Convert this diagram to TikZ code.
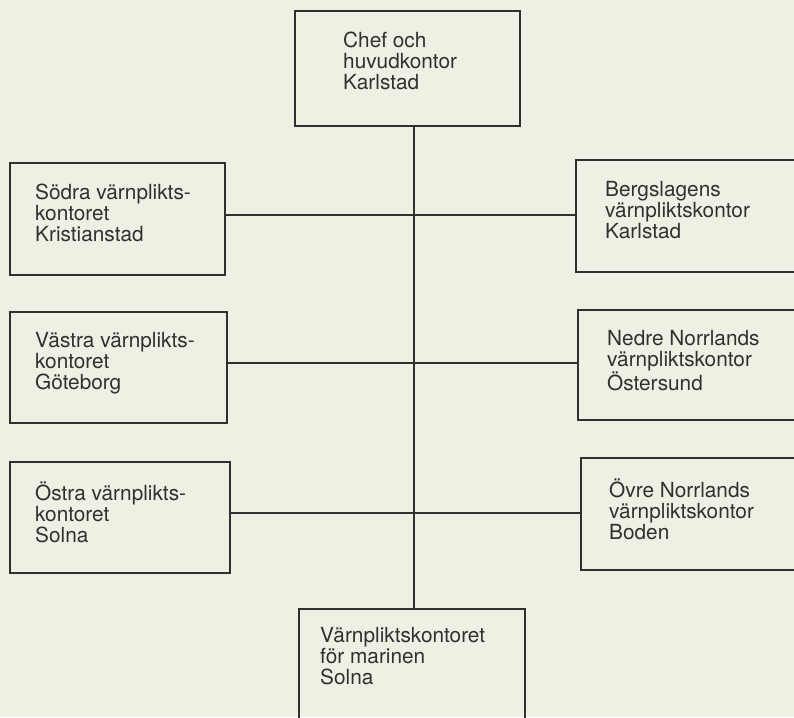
\documentclass[tikz,border=0pt]{standalone}
\usepackage{fontspec}
\setmainfont{TeX Gyre Heros}
\definecolor{paper}{RGB}{238,240,228}
\definecolor{ink}{RGB}{48,48,48}
\begin{document}
\begin{tikzpicture}[x=1pt,y=-1pt,
  box/.style={draw=ink, line width=1.7pt, rectangle, inner sep=0pt, anchor=north west},
  lbl/.style={align=left, anchor=west, inner sep=0pt, text=ink, font=\fontsize{20.8}{21}\selectfont},
  link/.style={draw=ink, line width=1.7pt}]
\useasboundingbox (0,0) rectangle (794,717);
\fill[paper] (0,0) rectangle (794,717);
\clip (0,0) rectangle (794,717);
% boxes
\node[box, minimum width=225pt, minimum height=115pt] (chef)  at (294,10)  {};
\node[box, minimum width=215pt, minimum height=112pt] (sodra) at (9,162)   {};
\node[box, minimum width=240pt, minimum height=112pt] (berg)  at (575,159) {};
\node[box, minimum width=217pt, minimum height=111pt] (vast)  at (9,311)   {};
\node[box, minimum width=240pt, minimum height=110pt] (nedre) at (577,309) {};
\node[box, minimum width=220pt, minimum height=111pt] (ostra) at (9,461)   {};
\node[box, minimum width=240pt, minimum height=112pt] (ovre)  at (580,457) {};
\node[box, minimum width=226pt, minimum height=150pt] (mar)   at (298,608) {};
% labels
\node[lbl] (chefT)  at (343,61) {Chef och\\huvudkontor\\Karlstad};
\node[lbl] (sodraT) at ([xshift=26pt,yshift=6pt]sodra.west) {Södra värnplikts-\\kontoret\\Kristianstad};
\node[lbl] (bergT)  at ([xshift=30pt,yshift=6pt]berg.west)  {Bergslagens\\värnpliktskontor\\Karlstad};
\node[lbl] (vastT)  at ([xshift=26pt,yshift=4pt]vast.west)  {Västra värnplikts-\\kontoret\\Göteborg};
\node[lbl] (nedreT) at ([xshift=30pt,yshift=4pt]nedre.west) {Nedre Norrlands\\värnpliktskontor\\Östersund};
\node[lbl] (ostraT) at ([xshift=26pt,yshift=5pt]ostra.west) {Östra värnplikts-\\kontoret\\Solna};
\node[lbl] (ovreT)  at ([xshift=29pt,yshift=5pt]ovre.west)  {Övre Norrlands\\värnpliktskontor\\Boden};
\node[lbl, anchor=north west] (marT) at (320,627) {Värnpliktskontoret\\för marinen\\Solna};
% connectors
\coordinate (sp) at (414,0);
\coordinate (r1) at (0,215);
\coordinate (r2) at (0,363);
\coordinate (r3) at (0,513);
\draw[link] (chef.south -| sp) -- (mar.north -| sp);
\draw[link] (sodra.east |- r1) -- (berg.west |- r1);
\draw[link] (vast.east |- r2) -- (nedre.west |- r2);
\draw[link] (ostra.east |- r3) -- (ovre.west |- r3);
\end{tikzpicture}
\end{document}
